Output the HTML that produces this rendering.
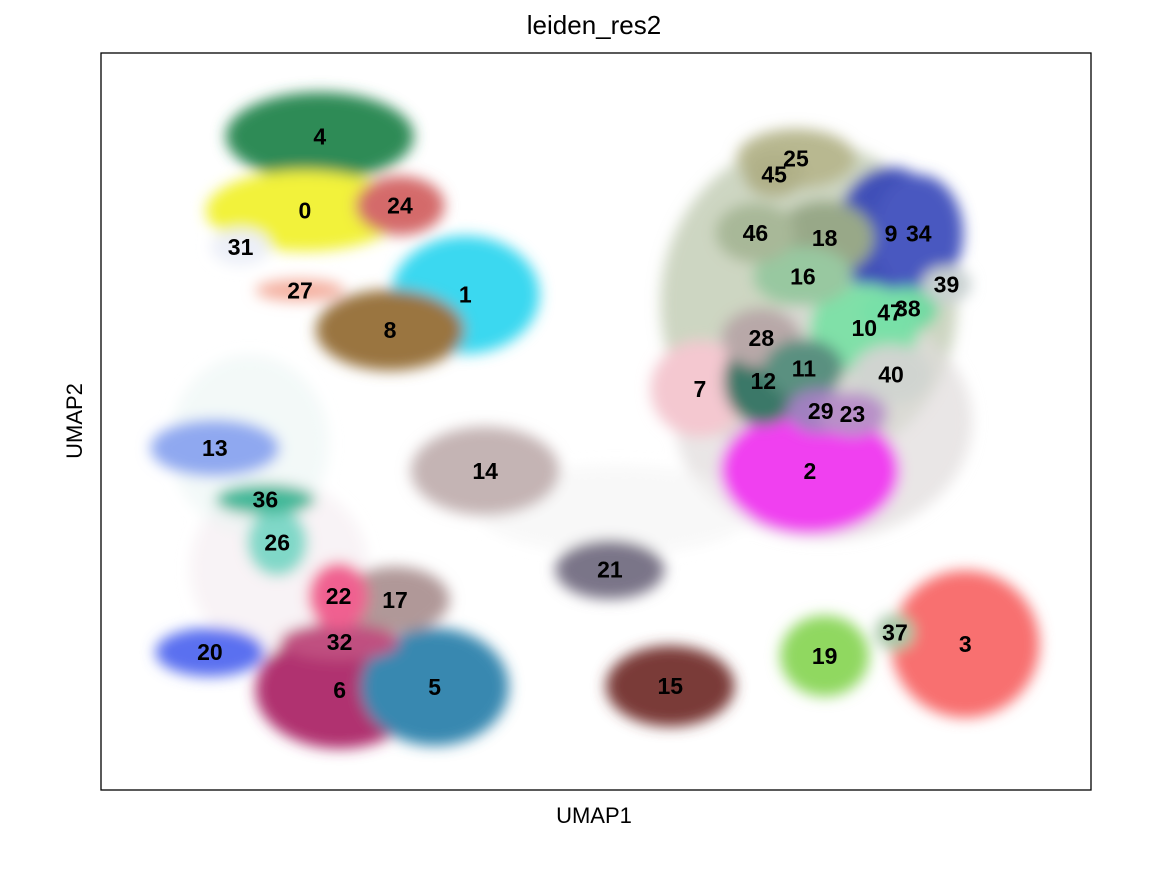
<!DOCTYPE html>
<html><head><meta charset="utf-8">
<style>
html,body{margin:0;padding:0;background:#fff;}
svg{display:block;font-family:"Liberation Sans","DejaVu Sans",sans-serif;}
</style></head>
<body>
<svg id="chart" width="1168" height="870" viewBox="0 0 1168 870">
<defs>
<filter id="blur" x="-50%" y="-50%" width="200%" height="200%"><feGaussianBlur stdDeviation="7"/></filter>
<clipPath id="plotclip"><rect x="101" y="53" width="990" height="737"/></clipPath>
</defs>
<rect x="101" y="53" width="990" height="737" fill="#fff"/>
<g id="blobs" clip-path="url(#plotclip)" filter="url(#blur)"></g>
<g id="labels"></g>
<rect x="101" y="53" width="990" height="737" fill="none" stroke="#000" stroke-width="1.3"/>
<text x="594" y="34" font-size="26" text-anchor="middle">leiden_res2</text>
<text x="594" y="823" font-size="22" text-anchor="middle">UMAP1</text>
<text x="0" y="0" font-size="22" text-anchor="middle" transform="translate(82,421) rotate(-90)">UMAP2</text>
</svg>
<script>
// Background blob regions (UMAP units 0-100)
const bgX = [71.5, 73, 18, 15, 52];
const bgY = [66, 50, 30, 47, 38];
const bgRX = [15, 15, 9, 8, 14];
const bgRY = [22, 16, 12, 12, 6];
const bgColors = ['#b8c4a8', '#e0dcdc', '#f2e8ee', '#e8f4f2', '#f4f4f4'];
const bgOpacity = [0.7, 0.7, 0.5, 0.5, 0.6];

// Clusters
const clusterLabels = ['4','0','24','31','27','1','8','13','36','26','22','17','20','32','6','5','14','21','15','19','37','3','25','45','46','18','9','34','16','39','38','47','10','28','11','40','7','12','29','23','2'];
const clusterX = [22.1,20.6,30.2,14.1,20.1,36.8,29.2,11.5,16.6,17.8,24.0,29.7,11.0,24.1,24.1,33.7,38.8,51.4,57.5,73.1,80.2,87.3,70.2,68.0,66.1,73.1,79.8,82.6,70.9,85.4,81.5,79.7,77.1,66.7,71.0,79.8,60.5,66.9,72.7,75.9,71.6];
const clusterY = [88.7,78.6,79.3,73.7,67.8,67.2,62.4,46.4,39.4,33.6,26.3,25.8,18.7,20.1,13.6,14.0,43.3,29.9,14.1,18.2,21.4,19.8,85.7,83.5,75.6,74.9,75.5,75.5,69.7,68.6,65.3,64.8,62.7,61.3,57.2,56.4,54.4,55.5,51.4,51.0,43.3];
const clusterRX = [9.5,10,4.5,3,4.5,7.5,7.5,6.5,5,3,3,5.5,5.5,6,8.5,7.5,7.5,5.5,6.5,4.5,2,7.5,6,3,4,5,5.5,4.5,5,2.5,3,3,5.5,4,4,4,5,4,3.5,3.5,9];
const clusterRY = [6,5.5,4,2.5,1.5,8,5.5,3.8,2,4.5,4.5,4.5,3.3,2.5,8,8,6,4,5.5,5.5,2.5,10,4,3,4,5,9,8,4,2.5,3,3,6,4,4,4,6.5,6,3,3,8.5];
const clusterColors = ['#2e8b57','#f2f23a','#d46a6a','#eceff8','#f4b0a0','#3ad8f0','#9a7540','#8fa8f0','#40b898','#80d8c8','#f06090','#b09898','#5a70f0','#c05080','#b03070','#3888b0','#c4b4b4','#7a7588','#7a3a38','#90d860','#a8c8a8','#f87070','#b8b890','#b0b088','#a8b898','#98a888','#4050b8','#4858c0','#98c8a0','#c8d0d0','#70d8a0','#78e0a8','#80e0a8','#b8a8a8','#5a9080','#d0d4d0','#f4c8d0','#3a7868','#a080c0','#b890c8','#f040f0'];

const X0=101, X1=1091, Y0=790, Y1=53;
function xs(v){return X0+(X1-X0)*v/100;}
function ys(v){return Y0-(Y0-Y1)*v/100;}
function sx(r){return (X1-X0)*r/100;}
function sy(r){return (Y0-Y1)*r/100;}
const NS='http://www.w3.org/2000/svg';
const blobs=document.getElementById('blobs');
const labels=document.getElementById('labels');
for(let i=0;i<bgX.length;i++){
  const e=document.createElementNS(NS,'ellipse');
  
  
  e.setAttribute('cx',xs(bgX[i]));e.setAttribute('cy',ys(bgY[i]));
  e.setAttribute('rx',sx(bgRX[i]));e.setAttribute('ry',sy(bgRY[i]));
  e.setAttribute('fill',bgColors[i]);e.setAttribute('opacity',bgOpacity[i]);
  blobs.appendChild(e);
}
const order=clusterLabels.map((_,i)=>i).sort((a,b)=>clusterRX[b]*clusterRY[b]-clusterRX[a]*clusterRY[a]);
for(const i of order){
  const e=document.createElementNS(NS,'ellipse');
  
  
  e.setAttribute('cx',xs(clusterX[i]));e.setAttribute('cy',ys(clusterY[i]));
  e.setAttribute('rx',sx(clusterRX[i]));e.setAttribute('ry',sy(clusterRY[i]));
  e.setAttribute('fill',clusterColors[i]);
  blobs.appendChild(e);
}
for(let i=0;i<clusterLabels.length;i++){
  const t=document.createElementNS(NS,'text');
  
  
  t.setAttribute('x',xs(clusterX[i]));t.setAttribute('y',ys(clusterY[i])+8);
  t.setAttribute('text-anchor','middle');t.setAttribute('font-size','23');
  t.setAttribute('font-weight','bold');
  t.textContent=clusterLabels[i];
  labels.appendChild(t);
}
</script>
</body></html>
